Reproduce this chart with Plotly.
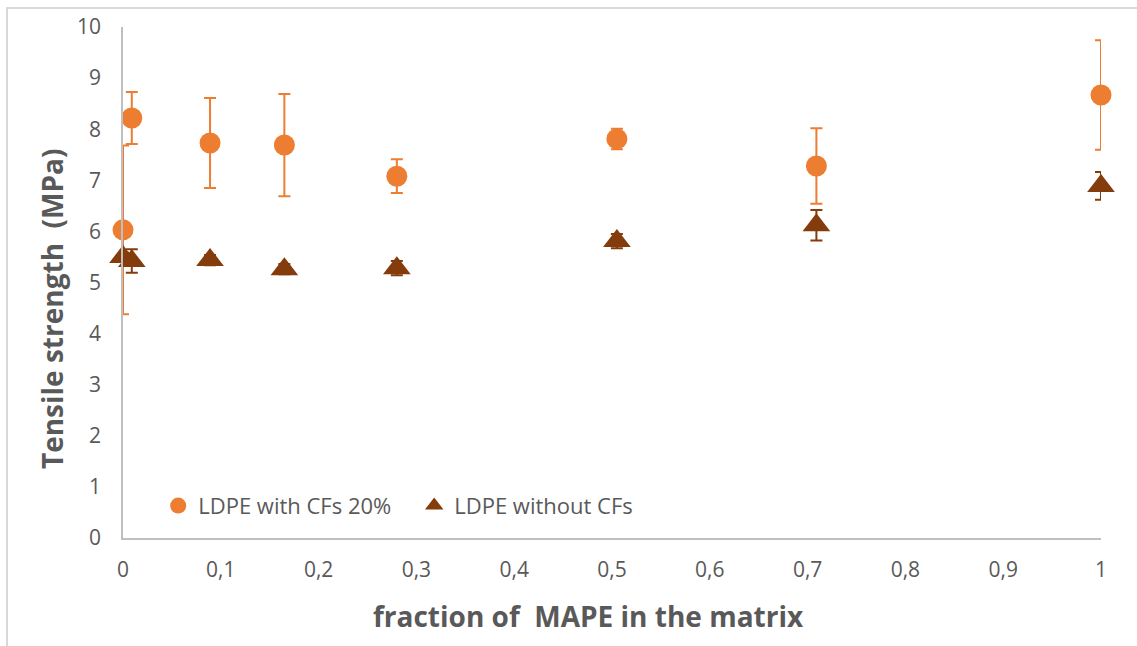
import plotly.graph_objects as go

# MAPE fraction in the matrix
frac_cf = [0.0, 0.009, 0.089, 0.165, 0.28, 0.505, 0.709, 1.0]
frac_neat = [0.0, 0.009, 0.089, 0.165, 0.28, 0.505, 0.709, 1.0]

# Tensile strength (MPa) and standard deviation
ts_cf = [6.03, 8.22, 7.73, 7.69, 7.08, 7.81, 7.28, 8.67]
err_cf = [1.65, 0.51, 0.88, 1.00, 0.33, 0.20, 0.74, 1.07]
ts_neat = [5.50, 5.42, 5.44, 5.26, 5.28, 5.81, 6.12, 6.89]
err_neat = [0.08, 0.23, 0.10, 0.10, 0.14, 0.14, 0.30, 0.27]

X_TITLE = "fraction of\u00a0 MAPE in the matrix"
Y_TITLE = "Tensile strength\u00a0 (MPa)"

ORANGE = "#ED7D31"
BROWN = "#843C0C"
GREY_TXT = "#595959"
FONT = "'Open Sans', sans-serif"

fig = go.Figure()
fig.add_trace(go.Scatter(
    x=frac_cf, y=ts_cf, mode="markers", name="LDPE with CFs 20%",
    cliponaxis=False,
    marker=dict(symbol="circle", size=21, color=ORANGE),
    error_y=dict(type="data", array=err_cf, visible=True,
                 color=ORANGE, thickness=2, width=6),
))
fig.add_trace(go.Scatter(
    x=frac_neat, y=ts_neat, mode="markers", name="LDPE without CFs",
    cliponaxis=False,
    marker=dict(symbol="triangle-up", size=24, color=BROWN),
    error_y=dict(type="data", array=err_neat, visible=True,
                 color=BROWN, thickness=2, width=6),
))

fig.update_layout(
    width=1137, height=646,
    margin=dict(l=123, r=36, t=27, b=108),
    paper_bgcolor="white", plot_bgcolor="white",
    separators=", ",
    font=dict(family=FONT, size=21, color=GREY_TXT),
    showlegend=True,
    legend=dict(
        orientation="h", x=0.036, y=0.063, xanchor="left", yanchor="middle",
        bgcolor="rgba(0,0,0,0)", font=dict(size=22, color=GREY_TXT),
        entrywidth=211, entrywidthmode="pixels", itemwidth=30,
    ),
    shapes=[dict(
        type="rect", xref="paper", yref="paper",
        x0=-0.1186, x1=1.06, y0=-0.25, y1=1.037,
        line=dict(color="#d9d9d9", width=2), fillcolor="rgba(0,0,0,0)",
        layer="below",
    )],
    annotations=[
        dict(text="<b>" + X_TITLE + "</b>", xref="paper", yref="paper",
             x=0.4755, y=-0.1526, xanchor="center", yanchor="middle",
             showarrow=False, font=dict(size=28, color=GREY_TXT)),
        dict(text="<b>" + Y_TITLE + "</b>", xref="paper", yref="paper",
             x=-0.0726, y=0.45, xanchor="center", yanchor="middle",
             textangle=-90, showarrow=False,
             font=dict(size=28, color=GREY_TXT)),
    ],
)

fig.update_xaxes(
    range=[0, 1], dtick=0.1, tick0=0, showgrid=False, zeroline=False,
    showline=True, linecolor="#bfbfbf", linewidth=1.5,
    ticks="", ticklabelstandoff=12,
    tickfont=dict(size=21, color=GREY_TXT),
)
fig.update_yaxes(
    range=[0, 10], dtick=1, showgrid=False, zeroline=False,
    showline=True, linecolor="#bfbfbf", linewidth=1.5,
    ticks="", ticklabelstandoff=16,
    tickfont=dict(size=21, color=GREY_TXT),
)

fig.write_html("out.html")
